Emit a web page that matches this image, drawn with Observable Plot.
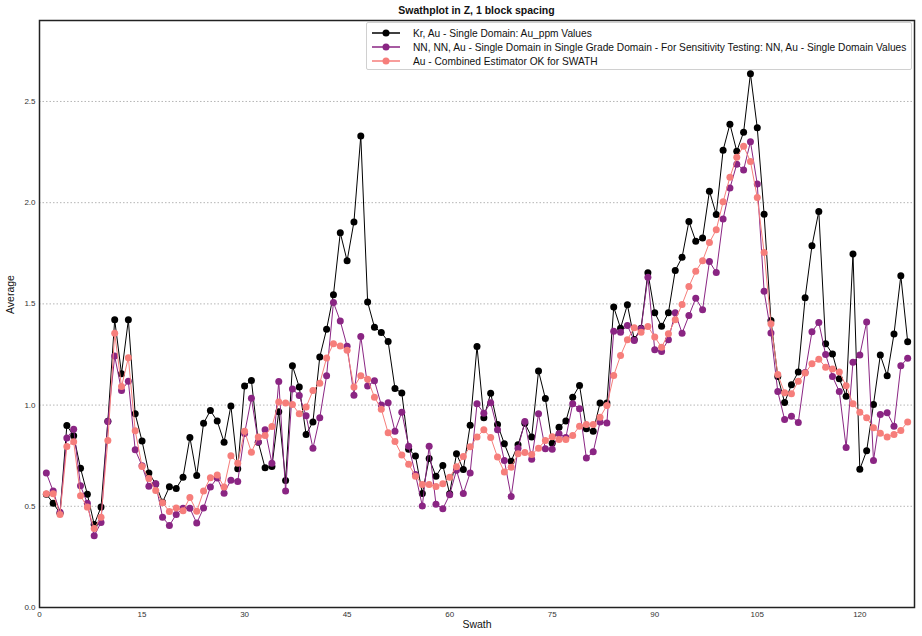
<!DOCTYPE html>
<html>
<head>
<meta charset="utf-8">
<script src="https://cdn.jsdelivr.net/npm/d3@7"></script>
<script src="https://cdn.jsdelivr.net/npm/@observablehq/plot@0.6"></script>
<style>
  html, body { margin: 0; padding: 0; background: #fff; }
  #wrap { position: relative; width: 922px; height: 636px; font-family: "Liberation Sans", Arial, sans-serif; }
  #title { height: 19px; line-height: 20px; padding-left: 39px; width: 875px; text-align: center; font-weight: bold; font-size: 10.5px; color: #111; }
  #legend { position: absolute; left: 366px; top: 22px; width: 546px; height: 48px; border: 1px solid #d0d0d0; border-radius: 2px; background: rgba(255,255,255,0.85); box-sizing: border-box; padding-top: 3px; }
  .row { height: 14px; display: flex; align-items: center; font-size: 10.2px; color: #111; white-space: nowrap; }
  .row svg { margin-left: 4px; margin-right: 12px; }
</style>
</head>
<body>
<div id="wrap">
  <div id="title">Swathplot in Z, 1 block spacing</div>
  <div id="chart"></div>
  <div id="legend"></div>
</div>
<script>
// ---- data ----
const seriesNames = [
  "Kr, Au - Single Domain: Au_ppm Values",
  "NN, NN, Au - Single Domain in Single Grade Domain - For Sensitivity Testing: NN, Au - Single Domain Values",
  "Au - Combined Estimator OK for SWATH"
];
const seriesColors = ["#000000", "#8a2583", "#f67e7b"];
const swaths = d3.range(1, 128);

const krValues = [
  0.56, 0.515, 0.466, 0.899, 0.848, 0.688, 0.560, 0.410, 0.496, 0.92,
  1.421, 1.155, 1.421, 0.957, 0.822, 0.665, 0.61, 0.52, 0.596, 0.588,
  0.644, 0.840, 0.652, 0.910, 0.973, 0.921, 0.817, 0.996, 0.685, 1.094,
  1.122, 0.817, 0.690, 0.697, 0.967, 0.627, 1.194, 1.089, 0.855, 0.917,
  1.238, 1.375, 1.545, 1.851, 1.713, 1.905, 2.330, 1.509, 1.385, 1.359,
  1.314, 1.082, 1.060, 0.782, 0.749, 0.563, 0.736, 0.649, 0.702, 0.562,
  0.759, 0.682, 0.901, 1.290, 0.937, 1.059, 0.904, 0.809, 0.723, 0.804,
  0.91, 0.842, 1.168, 1.033, 0.812, 0.891, 0.921, 1.039, 1.097, 0.883,
  0.871, 1.010, 1.010, 1.484, 1.380, 1.496, 1.324, 1.38, 1.654, 1.456,
  1.390, 1.456, 1.665, 1.730, 1.907, 1.810, 1.825, 2.057, 1.942, 2.259,
  2.388, 2.254, 2.348, 2.637, 2.370, 1.943, 1.418, 1.141, 1.013, 1.100,
  1.164, 1.530, 1.787, 1.957, 1.303, 1.253, 1.130, 1.044, 1.747, 0.683,
  0.774, 1.003, 1.247, 1.145, 1.351, 1.639, 1.313
];
const nnValues = [
  0.664, 0.575, 0.47, 0.837, 0.881, 0.601, 0.515, 0.354, 0.420, 0.919,
  1.242, 1.072, 1.118, 0.779, 0.70, 0.599, 0.611, 0.446, 0.405, 0.460,
  0.490, 0.490, 0.417, 0.491, 0.595, 0.64, 0.564, 0.629, 0.623, 0.86,
  1.034, 0.818, 0.878, 0.713, 1.117, 0.576, 1.080, 1.047, 0.947, 0.787,
  0.938, 1.145, 1.507, 1.415, 1.291, 1.049, 1.339, 1.094, 1.120, 1.00,
  1.011, 0.871, 0.965, 0.797, 0.657, 0.502, 0.797, 0.510, 0.488, 0.557,
  0.678, 0.563, 0.665, 1.006, 0.960, 1.011, 0.878, 0.726, 0.548, 0.787,
  0.919, 0.733, 0.957, 0.784, 0.782, 0.858, 0.84, 1.006, 0.982, 0.738,
  0.769, 0.916, 0.911, 1.365, 1.360, 1.393, 1.319, 1.377, 1.632, 1.273,
  1.265, 1.323, 1.456, 1.355, 1.442, 1.528, 1.471, 1.709, 1.655, 1.919,
  2.072, 2.190, 2.162, 2.301, 2.092, 1.563, 1.356, 1.067, 0.929, 0.945,
  0.914, 1.161, 1.362, 1.408, 1.250, 1.141, 1.067, 0.791, 1.212, 1.247,
  1.410, 0.726, 0.954, 0.962, 0.896, 1.194, 1.232
];
const okValues = [
  0.562, 0.562, 0.46, 0.795, 0.819, 0.552, 0.496, 0.390, 0.446, 0.825,
  1.355, 1.092, 1.234, 0.873, 0.697, 0.637, 0.578, 0.518, 0.474, 0.492,
  0.478, 0.543, 0.475, 0.575, 0.641, 0.655, 0.595, 0.750, 0.713, 0.871,
  0.767, 0.842, 0.850, 0.894, 1.015, 1.010, 1.003, 0.957, 0.990, 1.072,
  1.108, 1.233, 1.303, 1.292, 1.271, 1.089, 1.145, 1.128, 1.039, 0.980,
  0.863, 0.820, 0.753, 0.708, 0.649, 0.608, 0.608, 0.598, 0.611, 0.644,
  0.695, 0.746, 0.794, 0.842, 0.878, 0.840, 0.743, 0.669, 0.693, 0.759,
  0.766, 0.756, 0.787, 0.825, 0.843, 0.830, 0.830, 0.850, 0.896, 0.904,
  0.904, 0.940, 0.998, 1.146, 1.245, 1.323, 1.382, 1.360, 1.388, 1.336,
  1.286, 1.352, 1.421, 1.497, 1.586, 1.661, 1.713, 1.803, 1.866, 2.004,
  2.126, 2.225, 2.279, 2.204, 2.026, 1.754, 1.402, 1.151, 1.061, 1.056,
  1.118, 1.158, 1.204, 1.227, 1.187, 1.178, 1.163, 1.095, 1.006, 0.965,
  0.937, 0.888, 0.861, 0.842, 0.855, 0.875, 0.917
];
const xTicks = [0, 15, 30, 45, 60, 75, 90, 105, 120];
const yTicks = [0, 0.5, 1.0, 1.5, 2.0, 2.5];
const yGrid = [0.5, 1.0, 1.5, 2.0, 2.5];

// ---- build table ----
const allValues = [krValues, nnValues, okValues];
const rows = [];
allValues.forEach((vals, si) => {
  vals.forEach((v, i) => rows.push({swath: swaths[i], value: v, series: seriesNames[si]}));
});

const lineMarks = [];
seriesNames.forEach((name, si) => {
  const d = rows.filter(r => r.series === name);
  lineMarks.push(Plot.line(d, {x: "swath", y: "value", stroke: seriesColors[si], strokeWidth: 1}));
  lineMarks.push(Plot.dot(d, {x: "swath", y: "value", fill: seriesColors[si], r: 3.5, stroke: "none"}));
});

const chart = Plot.plot({
  width: 922,
  height: 617,
  marginLeft: 39,
  marginRight: 8,
  marginTop: 1,
  marginBottom: 29,
  style: {fontFamily: "Liberation Sans, Arial, sans-serif", fontSize: "8px", color: "#333", background: "white"},
  x: {domain: [0, 128], ticks: xTicks, label: null},
  y: {domain: [0, 2.9], ticks: yTicks, label: null},
  marks: [
    Plot.ruleY(yGrid, {stroke: "#b5b5b5", strokeWidth: 1, strokeDasharray: "1.5,2"}),
    ...lineMarks,
    Plot.frame({stroke: "#222", strokeWidth: 1.5}),
    Plot.axisX({ticks: xTicks, tickSize: 0, tickPadding: 4, fontSize: 8, fill: "#333"}),
    Plot.axisY({ticks: yTicks, tickSize: 0, tickPadding: 4, tickFormat: d3.format(".1f"), fontSize: 8, fill: "#333"}),
    Plot.text(["Swath"], {frameAnchor: "bottom", dy: 20, fontSize: 10.5, fill: "#111"}),
    Plot.text(["Average"], {frameAnchor: "left", dx: -29, rotate: -90, fontSize: 10.5, fill: "#111"})
  ]
});
document.getElementById("chart").appendChild(chart);

// ---- legend ----
const legend = document.getElementById("legend");
seriesNames.forEach((name, si) => {
  const row = document.createElement("div");
  row.className = "row";
  row.innerHTML = `<svg width="30" height="10"><line x1="1" y1="5" x2="29" y2="5" stroke="${seriesColors[si]}" stroke-width="1.5"/><circle cx="15" cy="5" r="3.5" fill="${seriesColors[si]}"/></svg><span>${name}</span>`;
  legend.appendChild(row);
});
</script>
</body>
</html>
